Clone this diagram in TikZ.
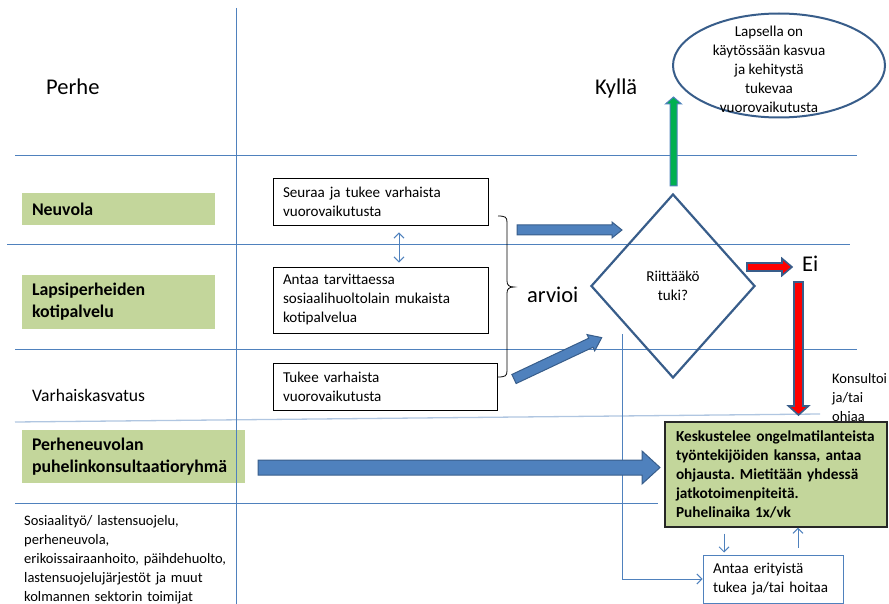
\documentclass[tikz,border=0pt]{standalone}
\usepackage{fontspec}
\setmainfont{Carlito}
\usetikzlibrary{shapes.geometric,arrows.meta}
\frenchspacing

\definecolor{laneblue}{HTML}{4F81BD}
\definecolor{deepblue}{HTML}{385D8A}
\definecolor{tagfill}{HTML}{C3D69B}
\definecolor{okgreen}{HTML}{00B050}
\definecolor{alarmred}{HTML}{FF0000}

\newcommand\txtbody{\fontsize{14.5}{19}\selectfont}
\newcommand\txtbox{\fontsize{15.1}{19}\selectfont}
\newcommand\txtboldbox{\fontsize{15.3}{19.2}\selectfont\bfseries}
\newcommand\txttag{\fontsize{17.8}{21.7}\selectfont\bfseries}
\newcommand\txtlane{\fontsize{17.6}{21.7}\selectfont}
\newcommand\txtbig{\fontsize{22.5}{27}\selectfont}

% block arrow: #1 style, (#2,#3) tail centre, #4 angle, #5 length,
% #6 shaft half-width, #7 head half-width, #8 head length
\newcommand\blockarrow[8]{%
  \begin{scope}[shift={(#2,#3)},rotate=#4]
    \draw[#1] (0,-#6) -- ({#5-#8},-#6) -- ({#5-#8},-#7) -- (#5,0)
      -- ({#5-#8},#7) -- ({#5-#8},#6) -- (0,#6) -- cycle;
  \end{scope}}

\begin{document}
\begin{tikzpicture}[x=1pt,y=-1pt,
  lane/.style={draw=laneblue,line width=1pt},
  faintlane/.style={draw=laneblue!45,line width=1.3pt},
  tag/.style={fill=tagfill,inner xsep=10pt,inner ysep=0pt,align=left,font=\txttag},
  note/.style={draw=black,line width=0.9pt,fill=white,inner xsep=10pt,inner ysep=0pt,align=left,font=\txtbox},
  plain/.style={inner sep=0pt,align=left},
  thinarrow/.style={draw=laneblue,line width=1pt,-{Straight Barb[length=5pt,width=10pt]}},
  bothways/.style={draw=laneblue,line width=1pt,{Straight Barb[length=5pt,width=10pt]}-{Straight Barb[length=5pt,width=10pt]}},
  braceline/.style={draw=black,line width=0.8pt},
  bluearrow/.style={fill=laneblue,draw=deepblue,line width=1pt},
  greenarrow/.style={fill=okgreen,draw=laneblue,line width=1pt},
  redarrow/.style={fill=alarmred,draw=deepblue,line width=1.6pt}]
\useasboundingbox (0,0) rectangle (889,604);

% row labels
\node[tag,text width=173pt,minimum height=32pt] (neuvola) at (118.5,209) {Neuvola};
\node[tag,text width=173pt,minimum height=54pt] (kotipalvelu) at (118.5,302) {Lapsiperheiden\\kotipalvelu};
\node[tag,text width=203pt,minimum height=53pt] (puhelin) at (133.5,456.5) {Perheneuvolan\\puhelinkonsultaatioryhmä};

\node[plain,anchor=base west,font=\txtbig] (perhe) at (46,95) {Perhe};
\node[plain,anchor=base west,font=\txtlane] (varhais) at (32,401) {Varhaiskasvatus};
\node[plain,anchor=base west,font=\txtbody,text width=230pt] (muut) at (24,525)
  {Sosiaalityö/ lastensuojelu,\\perheneuvola,\\erikoissairaanhoito, päihdehuolto,\\lastensuojelujärjestöt ja muut\\kolmannen sektorin toimijat};

% swimlane rules
\draw[lane] (15,156) -- (857,156);
\draw[lane] (7,245) -- (850,245);
\draw[lane] (15,349) -- (857,349);
\draw[faintlane] (15,422) -- (820,414);
\draw[lane] (15,503) -- (658,503);
\draw[lane] (236,8) -- (236,604);

% tasks of the services
\node[note,text width=195pt,minimum height=47pt] (seuraa) at (380.5,201.5) {Seuraa ja tukee varhaista\\vuorovaikutusta};
\node[note,text width=195pt,minimum height=66pt] (antaa) at (380.5,300) {Antaa tarvittaessa\\sosiaalihuoltolain mukaista\\kotipalvelua};
\node[note,text width=204pt,minimum height=47pt] (tukee) at (385,386.5) {Tukee varhaista\\vuorovaikutusta};
\draw[bothways] ([xshift=18.5pt,yshift=-7pt]seuraa.south) -- ([xshift=18.5pt,yshift=4pt]antaa.north);

% brace gathering the three tasks
\draw[braceline] (498,216) .. controls (505,216) and (507,217) .. (507,222) -- (507,281)
  .. controls (507,285) and (509,287) .. (514,287)
  .. controls (509,287) and (507,289) .. (507,293) -- (507,371)
  .. controls (507,376) and (505,377) .. (498,377);
\node[plain,anchor=base west,font=\txtbig] (arvioi) at (527,302) {arvioi};

% decision
\node[diamond,draw=deepblue,line width=2.2pt,minimum width=164pt,minimum height=184pt,
  inner sep=0pt,align=center,font=\txtbox] (riittaako) at (673,286) {Riittääkö\\tuki?};

% outcome: yes
\node[ellipse,draw=deepblue,line width=2pt,minimum width=212pt,minimum height=104pt,inner sep=0pt] (tulos) at (779,65.5) {};
\node[plain,align=center,font=\txtbox] (tulosteksti) at (769,69.5)
  {Lapsella on\\käytössään kasvua\\ja kehitystä\\tukevaa\\vuorovaikutusta};
\node[plain,anchor=base west,font=\txtbig] (kylla) at (595,95) {Kyllä};

% outcome: no
\node[plain,anchor=base west,font=\txtbig] (ei) at (802,272) {Ei};
\node[plain,anchor=base west,font=\txtbody,text width=60pt] (konsultoi) at (832,383) {Konsultoi\\ja/tai\\ohjaa};

% consultation group
\node[draw=black!85,line width=1.3pt,fill=tagfill,text width=200pt,inner xsep=11pt,inner ysep=0pt,
  minimum height=105pt,align=left,font=\txtboldbox] (keskustelee) at (776,474.5)
  {Keskustelee ongelmatilanteista\\työntekijöiden kanssa, antaa\\ohjausta. Mietitään yhdessä\\jatkotoimenpiteitä.\\Puhelinaika 1x/vk};
\node[draw=laneblue,line width=1pt,fill=white,text width=120pt,inner xsep=10pt,inner ysep=0pt,
  minimum height=48pt,align=left,font=\txtbox] (hoitaa) at (773,579) {Antaa erityistä\\tukea ja/tai hoitaa};

\draw[thinarrow] ([xshift=-52pt,yshift=-6pt]keskustelee.south) -- ([xshift=-49pt,yshift=2pt]hoitaa.north);
\draw[thinarrow] ([xshift=25pt,yshift=7pt]hoitaa.north) -- ([xshift=22pt]keskustelee.south);
\coordinate (haara) at (622,334);
\draw[thinarrow] (haara) |- (hoitaa.west);

% block arrows
\blockarrow{bluearrow}{517}{230}{0}{105}{5}{8}{10}
\blockarrow{bluearrow}{514}{379}{25.26}{97}{5}{9}{12}
\blockarrow{bluearrow}{258}{467.5}{0}{402}{7.5}{16.5}{18}
\blockarrow{greenarrow}{673.5}{186}{90}{89}{3.5}{8}{7}
\blockarrow{redarrow}{747}{267}{0}{45}{4}{8.5}{10}
\blockarrow{redarrow}{798.5}{282}{-90}{133}{4.5}{10}{9}
\end{tikzpicture}
\end{document}
